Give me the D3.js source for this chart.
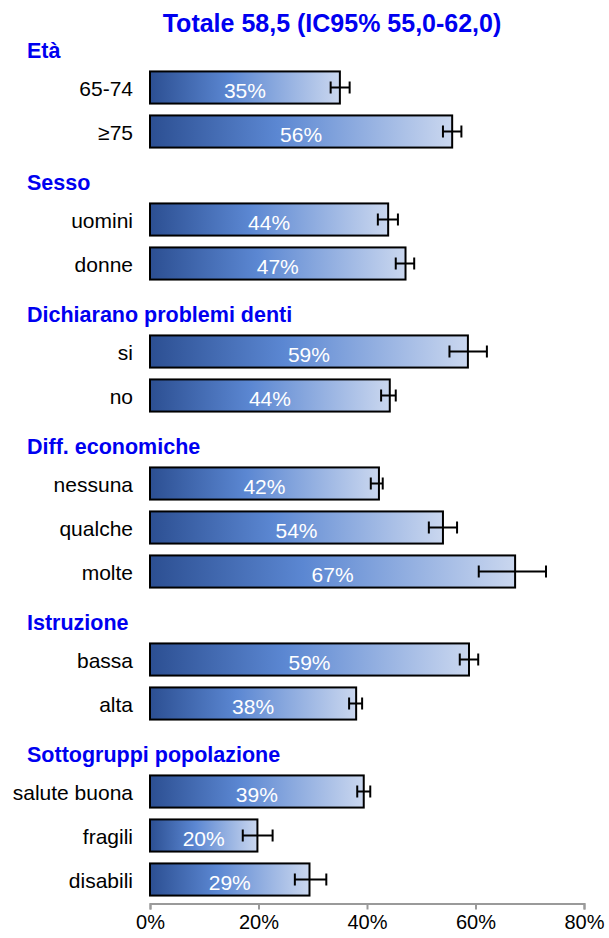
<!DOCTYPE html>
<html>
<head>
<meta charset="utf-8">
<script src="https://cdn.jsdelivr.net/npm/d3@7"></script>
<style>
  body { margin: 0; background: #fff; }
  svg { font-family: Arial, "Liberation Sans", sans-serif; }
</style>
</head>
<body>
<svg id="chart" width="609" height="938"></svg>
<script>
// chart data
let title = "Totale 58,5 (IC95% 55,0-62,0)";
let groups = ["Età", "Sesso", "Dichiarano problemi denti", "Diff. economiche", "Istruzione", "Sottogruppi popolazione"];
let groupOf = [0, 0, 1, 1, 2, 2, 3, 3, 3, 4, 4, 5, 5, 5];
let labels = ["65-74", "≥75", "uomini", "donne", "si", "no", "nessuna", "qualche", "molte", "bassa", "alta", "salute buona", "fragili", "disabili"];
let values = [35.0, 55.7, 43.9, 47.1, 58.6, 44.2, 42.2, 54.0, 67.3, 58.8, 38.0, 39.4, 19.8, 29.4];
let lower  = [33.3, 54.0, 42.0, 45.3, 55.2, 42.6, 40.7, 51.4, 60.6, 57.1, 36.7, 38.2, 17.1, 26.7];
let upper  = [36.8, 57.4, 45.7, 48.7, 62.1, 45.3, 42.9, 56.6, 73.0, 60.5, 39.1, 40.6, 22.6, 32.5];
let xTicks = [0, 20, 40, 60, 80];

// one row per header + one per bar
let rows = [];
let data = [];
groups.forEach(function(g, gi) {
    rows.push("h" + gi);
    for (let i = 0; i < labels.length; i++) {
        if (groupOf[i] == gi) {
            rows.push("b" + i);
            data.push({key: "b" + i, label: labels[i], value: values[i], lo: lower[i], hi: upper[i]});
        }
    }
});

const svg = d3.select("#chart");

var x = d3.scaleLinear()
    .domain([0, 80])
    .range([150, 584]);

var y = d3.scaleBand()
    .domain(rows)
    .range([21.5, 901.5])
    .paddingInner(0.27)
    .paddingOuter(0.135);

// gradient for the bars
var grad = svg.append("defs").append("linearGradient")
    .attr("id", "barGrad")
    .attr("x1", "0%").attr("x2", "100%").attr("y1", "0%").attr("y2", "0%");
grad.append("stop").attr("offset", "0%").attr("stop-color", "#2c4f92");
grad.append("stop").attr("offset", "42%").attr("stop-color", "#5b87d2");
grad.append("stop").attr("offset", "100%").attr("stop-color", "#cad7ef");

// title
svg.append("text")
    .attr("x", 332)
    .attr("y", 32)
    .attr("text-anchor", "middle")
    .attr("font-size", 25)
    .attr("font-weight", "bold")
    .attr("fill", "#0000f0")
    .text(title);

// group headers
svg.selectAll(".header")
    .data(groups)
    .enter().append("text")
    .attr("class", "header")
    .attr("x", 27)
    .attr("y", function(d, i) { return y("h" + i) + y.bandwidth() / 2 + 14; })
    .attr("font-size", 21.5)
    .attr("font-weight", "bold")
    .attr("fill", "#0000f0")
    .text(function(d) { return d; });

// category labels
svg.selectAll(".cat")
    .data(data)
    .enter().append("text")
    .attr("class", "cat")
    .attr("x", 133)
    .attr("y", function(d) { return y(d.key) + y.bandwidth() / 2 + 8; })
    .attr("text-anchor", "end")
    .attr("font-size", 21)
    .attr("fill", "#000")
    .text(function(d) { return d.label; });

// bars
svg.selectAll(".bar")
    .data(data)
    .enter().append("rect")
    .attr("class", "bar")
    .attr("x", x(0))
    .attr("y", function(d) { return y(d.key); })
    .attr("width", function(d) { return x(d.value) - x(0); })
    .attr("height", y.bandwidth())
    .attr("fill", "url(#barGrad)")
    .attr("stroke", "#000")
    .attr("stroke-width", 2);

// value labels
svg.selectAll(".val")
    .data(data)
    .enter().append("text")
    .attr("class", "val")
    .attr("x", function(d) { return (x(0) + x(d.value)) / 2; })
    .attr("y", function(d) { return y(d.key) + y.bandwidth() / 2 + 10; })
    .attr("text-anchor", "middle")
    .attr("font-size", 21)
    .attr("fill", "#fff")
    .text(function(d) { return Math.round(d.value) + "%"; });

// error bars
var err = svg.selectAll(".err")
    .data(data)
    .enter().append("g")
    .attr("class", "err")
    .attr("stroke", "#000")
    .attr("stroke-width", 2);

err.append("line")
    .attr("x1", function(d) { return x(d.lo); })
    .attr("x2", function(d) { return x(d.hi); })
    .attr("y1", function(d) { return y(d.key) + y.bandwidth() / 2; })
    .attr("y2", function(d) { return y(d.key) + y.bandwidth() / 2; });

err.append("line")
    .attr("x1", function(d) { return x(d.lo); })
    .attr("x2", function(d) { return x(d.lo); })
    .attr("y1", function(d) { return y(d.key) + y.bandwidth() / 2 - 6; })
    .attr("y2", function(d) { return y(d.key) + y.bandwidth() / 2 + 6; });

err.append("line")
    .attr("x1", function(d) { return x(d.hi); })
    .attr("x2", function(d) { return x(d.hi); })
    .attr("y1", function(d) { return y(d.key) + y.bandwidth() / 2 - 6; })
    .attr("y2", function(d) { return y(d.key) + y.bandwidth() / 2 + 6; });

// x axis
var xAxis = svg.append("g")
    .attr("transform", "translate(0," + (y.range()[1] + 2) + ")")
    .call(d3.axisBottom(x)
        .tickValues(xTicks)
        .tickFormat(function(d) { return d + "%"; })
        .tickSizeOuter(0)
        .tickSize(6)
        .tickPadding(5));

xAxis.select(".domain").attr("stroke", "#9a9a9a").attr("stroke-width", 2);
xAxis.selectAll(".tick line").attr("stroke", "#9a9a9a").attr("stroke-width", 2);
xAxis.selectAll(".tick text")
    .attr("font-size", 20)
    .attr("font-family", "Arial, 'Liberation Sans', sans-serif")
    .attr("fill", "#000");
</script>
</body>
</html>
